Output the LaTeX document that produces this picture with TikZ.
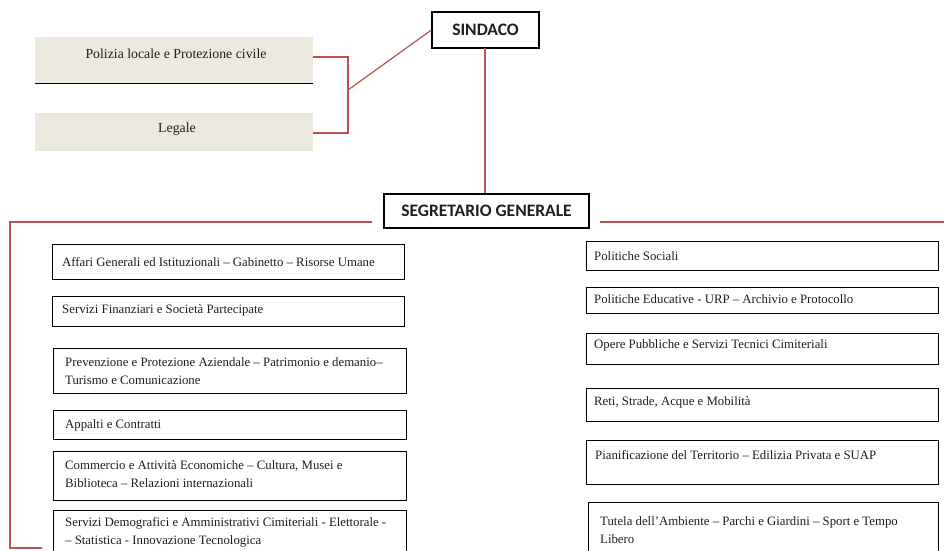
\documentclass[tikz,border=0pt]{standalone}
\usepackage{fontspec}
\setmainfont{Liberation Serif}
\newfontfamily\hdfont{Carlito}
\usetikzlibrary{calc}
\definecolor{linkred}{RGB}{192,80,77}
\definecolor{panelgray}{RGB}{236,233,224}
\definecolor{txtgray}{RGB}{30,30,30}
\tikzset{
  x=1pt, y=-1pt,
  headbox/.style={draw=black, line width=1.3pt, fill=white, inner sep=0pt,
    font=\hdfont\bfseries\fontsize{17.5}{20}\selectfont, text=txtgray},
  unitbox/.style={draw=black, line width=1.3pt, inner sep=0pt, anchor=north west},
  panel/.style={fill=panelgray, inner sep=0pt, anchor=north west},
  utext/.style={font=\fontsize{12.8}{18}\selectfont, text=txtgray, inner sep=0pt, align=left, anchor=west},
  ptext/.style={font=\fontsize{13.8}{18}\selectfont, text=txtgray, inner sep=0pt, anchor=center},
  link/.style={draw=linkred, line width=1.2pt},
}
\begin{document}
\begin{tikzpicture}
\clip (0,0) rectangle (944,550);
\fill[white] (0,0) rectangle (944,550);

% top heads
\node[headbox, minimum width=107pt, minimum height=36pt] (sind) at (485.5,30) {SINDACO};
\node[headbox, minimum width=205pt, minimum height=34pt] (seg) at (486.5,211) {SEGRETARIO GENERALE};

% staff panels
\node[panel, minimum width=278pt, minimum height=46pt] (pol) at (35,37) {};
\node[ptext] at (176,54) {Polizia locale e Protezione civile};
\draw[black, line width=1.6pt] (pol.south west) -- (pol.south east);
\node[panel, minimum width=278pt, minimum height=38pt] (leg) at (35,113) {};
\node[ptext] at (177,129) {Legale};

% left column boxes
\node[unitbox, minimum width=352pt, minimum height=35pt] (l1) at (52,244) {};
\node[unitbox, minimum width=352pt, minimum height=30pt] (l2) at (52,296) {};
\node[unitbox, minimum width=353pt, minimum height=45pt] (l3) at (53,348) {};
\node[unitbox, minimum width=353pt, minimum height=29pt] (l4) at (53,410) {};
\node[unitbox, minimum width=353pt, minimum height=49pt] (l5) at (53,451) {};
\node[unitbox, minimum width=353pt, minimum height=48pt] (l6) at (53,510) {};

\node[utext] at (62,262) {Affari Generali ed Istituzionali -- Gabinetto -- Risorse Umane};
\node[utext] at (62,310) {Servizi Finanziari e Società Partecipate};
\node[utext] at (65,371) {Prevenzione e Protezione Aziendale -- Patrimonio e demanio--\\Turismo e Comunicazione};
\node[utext] at (65,425) {Appalti e Contratti};
\node[utext] at (65,474) {Commercio e Attività Economiche -- Cultura, Musei e\\Biblioteca -- Relazioni internazionali};
\node[utext] at (65,532) {Servizi Demografici e Amministrativi Cimiteriali - Elettorale -\\-- Statistica - Innovazione Tecnologica};

% right column boxes
\node[unitbox, minimum width=352pt, minimum height=29pt] (r1) at (586,241) {};
\node[unitbox, minimum width=352pt, minimum height=26pt] (r2) at (586,287) {};
\node[unitbox, minimum width=352pt, minimum height=31pt] (r3) at (586,333) {};
\node[unitbox, minimum width=352pt, minimum height=33pt] (r4) at (586,388) {};
\node[unitbox, minimum width=352pt, minimum height=44pt] (r5) at (586,440) {};
\node[unitbox, minimum width=350pt, minimum height=56pt] (r6) at (588,502) {};

\node[utext] at (594,256) {Politiche Sociali};
\node[utext] at (594,299) {Politiche Educative - URP -- Archivio e Protocollo};
\node[utext] at (594,345) {Opere Pubbliche e Servizi Tecnici Cimiteriali};
\node[utext] at (594,402) {Reti, Strade, Acque e Mobilità};
\node[utext] at (595,455) {Pianificazione del Territorio -- Edilizia Privata e SUAP};
\node[utext] at (600,530) {Tutela dell'Ambiente -- Parchi e Giardini -- Sport e Tempo\\Libero};

% connectors
\coordinate (brtop) at (348,57);
\coordinate (brbot) at (348,133);
\coordinate (brmid) at (348,90);
\draw[link] (pol.east |- brtop) -- (brtop) -- (brbot) -- (leg.east |- brbot);
\draw[link] (brmid) -- (sind.west);
\coordinate (vtop) at (485,48);
\draw[link] (vtop) -- (vtop |- seg.north);

\coordinate (lstart) at (372,222);
\coordinate (lcorner) at (10,222);
\coordinate (lbot) at (10,548);
\coordinate (lend) at (42,548);
\draw[link] (lstart) -- (lcorner) -- (lbot) -- (lend);
\coordinate (rstart) at (600,222);
\coordinate (rend) at (944,222);
\draw[link] (rstart) -- (rend);
\end{tikzpicture}
\end{document}
